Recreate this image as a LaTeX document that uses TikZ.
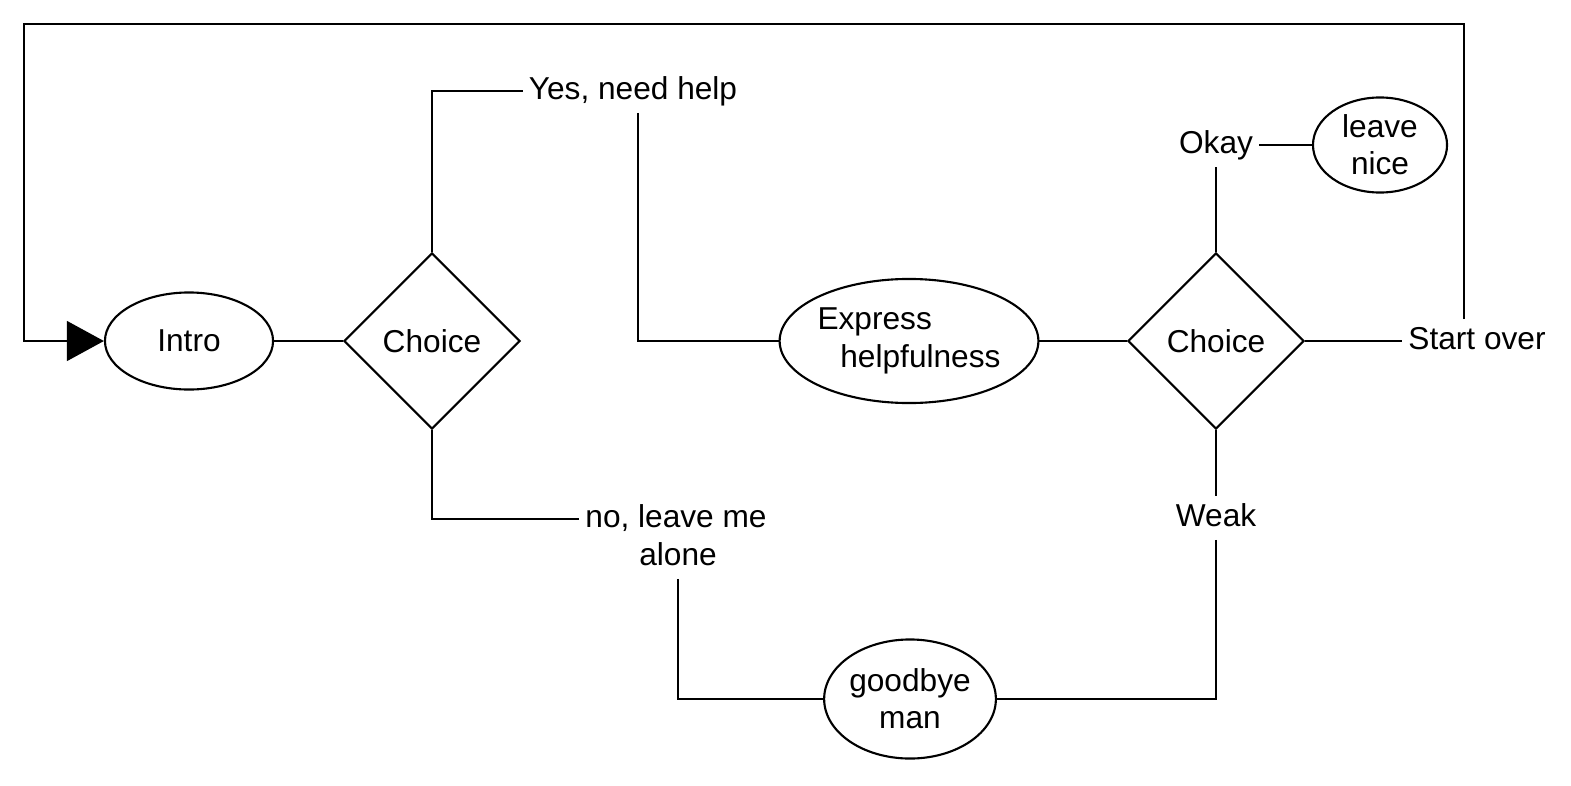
\documentclass[tikz,border=0pt]{standalone}
\usepackage{fontspec}
\setmainfont{Liberation Sans}
\usetikzlibrary{arrows.meta}
\usetikzlibrary{shapes.geometric}
\usetikzlibrary{positioning}
\tikzset{state/.style = {ellipse, draw, inner sep=0pt, align=center},
         choice/.style = {diamond, draw, minimum width=1.76cm, minimum height=1.76cm, inner sep=0pt},
         answer/.style = {inner sep=1.5pt, text height=6.8pt, text depth=2pt}}

\begin{document}
\begin{tikzpicture}[x=0.01cm, y=-0.01cm, line width=0.6pt, font=\fontsize{9}{10.6}\selectfont]
    \useasboundingbox (0,0) rectangle (1571,785);
    \node [state, minimum width=1.68cm, minimum height=0.97cm] (intro) at (189,341) {Intro};
    \node [choice] (c1) at (432,341) {Choice};
    \node [answer] (yes) at (633,91) {Yes, need help};
    \node [answer] (no) at (676,519) {no, leave me};
    \node [answer] (alone) at (678,557) {alone};
    \node [state, minimum width=2.52cm, minimum height=1.24cm, align=left] (expr) at (909,341) {Express\\\hspace*{6.5pt}helpfulness};
    \node [state, minimum width=1.71cm, minimum height=1.19cm] (bye) at (910,699) {goodbye\\man};
    \node [choice] (c2) at (1216,341) {Choice};
    \node [answer] (okay) at (1216,145) {Okay};
    \node [answer] (weak) at (1216,518) {Weak};
    \node [answer] (start) at (1477,341) {Start over};
    \node [state, minimum width=1.34cm, minimum height=0.95cm] (nice) at (1380,145) {leave\\nice};
    \coordinate (topleft) at (24,24);

    \draw (intro.east) -- (c1.west);
    \draw (c1.north) |- (yes.west);
    \draw ([xshift=1.5pt]yes.south) |- (expr.west);
    \draw (c1.south) |- (no.west);
    \draw (alone.south) |- (bye.west);
    \draw (expr.east) -- (c2.west);
    \draw (c2.north) -- (okay.south);
    \draw (okay.east) -- (nice.west);
    \draw (c2.south) -- (weak.north);
    \draw (weak.south) |- (bye.east);
    \draw (c2.east) -- (start.west);
    \draw [-{Triangle[length=10.5pt, width=11.3pt]}] ([xshift=-3.7pt]start.north) |- (topleft) |- (intro.west);
\end{tikzpicture}
\end{document}
